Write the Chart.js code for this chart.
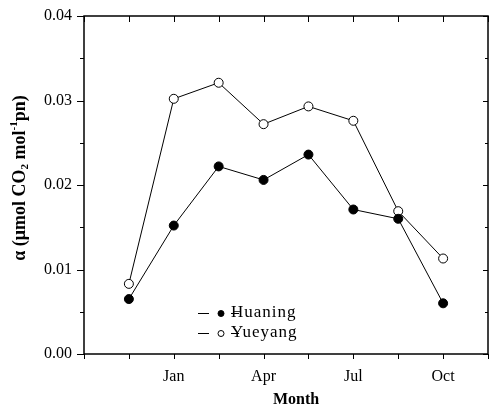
<!DOCTYPE html>
<html><head><meta charset="utf-8">
<script src="https://cdn.jsdelivr.net/npm/chart.js@4"></script>
<style>html,body{margin:0;padding:0;background:#fff}</style>
</head><body>
<canvas id="c" width="490" height="408"></canvas>
<script>
// Sampling time in months relative to January (Jan = 0)
const sampleMonths = [-1.5, 0, 1.5, 3, 4.5, 6, 7.5, 9];
const huaning = [0.0065, 0.0152, 0.0222, 0.0206, 0.0236, 0.0171, 0.0160, 0.0060];
const yueyang = [0.0083, 0.0302, 0.0321, 0.0272, 0.0293, 0.0276, 0.0169, 0.0113];
const monthTickValues = [0, 3, 6, 9];
const monthTickLabels = ['Jan', 'Apr', 'Jul', 'Oct'];
const seriesNames = ['Huaning', 'Yueyang'];
const xTitle = 'Month';

const FONT = '"Liberation Serif", "Times New Roman", serif';

function toPts(vals) { return sampleMonths.map((m, i) => ({ x: m, y: vals[i] })); }

const framePlugin = {
  id: 'frame',
  afterDraw(chart) {
    const { ctx, chartArea: a, scales: { x, y } } = chart;
    ctx.save();
    ctx.strokeStyle = '#000';
    ctx.lineWidth = 1;
    ctx.beginPath();
    x.ticks.forEach(t => {
      const px = Math.round(x.getPixelForValue(t.value)) + 0.5;
      ctx.moveTo(px, a.bottom); ctx.lineTo(px, a.bottom + 5);
      ctx.moveTo(px, a.top); ctx.lineTo(px, a.top + 6);
    });
    y.ticks.forEach(t => {
      const py = Math.round(y.getPixelForValue(t.value)) + 0.5;
      const major = Math.abs(t.value * 100 - Math.round(t.value * 100)) < 1e-6;
      ctx.moveTo(a.left, py); ctx.lineTo(a.left - (major ? 7 : 4), py);
      ctx.moveTo(a.right, py); ctx.lineTo(a.right - (major ? 5 : 3), py);
    });
    ctx.stroke();
    ctx.lineWidth = 1.5;
    ctx.strokeRect(a.left, a.top, a.right - a.left, a.bottom - a.top);

    // x title
    ctx.fillStyle = '#000';
    ctx.font = 'bold 16px ' + FONT;
    ctx.textAlign = 'center';
    ctx.textBaseline = 'middle';
    ctx.fillText(xTitle, 296, 400);

    // y title with sub/superscript
    ctx.save();
    ctx.translate(20, 178);
    ctx.rotate(-Math.PI / 2);
    const parts = [
      ['α (μmol CO', 0, 18], ['2', 5, 11], [' mol', 0, 18], ['-1', -6, 11], ['pn)', 0, 18]
    ];
    let total = 0;
    parts.forEach(p => { ctx.font = 'bold ' + p[2] + 'px ' + FONT; total += ctx.measureText(p[0]).width; });
    let cx = -total / 2;
    ctx.textAlign = 'left';
    parts.forEach(p => {
      ctx.font = 'bold ' + p[2] + 'px ' + FONT;
      ctx.fillText(p[0], cx, p[1]);
      cx += ctx.measureText(p[0]).width;
    });
    ctx.restore();

    // legend
    const rows = [[313, '#000'], [333, '#fff']];
    rows.forEach((r, i) => {
      const ly = r[0] + 0.5;
      ctx.lineWidth = 1;
      ctx.beginPath();
      ctx.moveTo(198, ly); ctx.lineTo(209, ly);
      ctx.moveTo(231, ly); ctx.lineTo(239, ly);
      ctx.stroke();
      ctx.beginPath();
      ctx.arc(221, ly, 3, 0, Math.PI * 2);
      ctx.fillStyle = r[1]; ctx.fill(); ctx.stroke();
      ctx.fillStyle = '#000';
      ctx.font = '17px ' + FONT;
      ctx.letterSpacing = '1px';
      ctx.textAlign = 'left';
      ctx.textBaseline = 'middle';
      ctx.fillText(seriesNames[i], 231, r[0]);
      ctx.letterSpacing = '0px';
    });
    ctx.restore();
  }
};

new Chart(document.getElementById('c'), {
  type: 'line',
  data: {
    datasets: [
      { label: seriesNames[0], data: toPts(huaning), borderColor: '#000', borderWidth: 1,
        pointRadius: 4.5, pointBackgroundColor: '#000', pointBorderColor: '#000', pointBorderWidth: 1, tension: 0 },
      { label: seriesNames[1], data: toPts(yueyang), borderColor: '#000', borderWidth: 1,
        pointRadius: 4.5, pointBackgroundColor: '#fff', pointBorderColor: '#000', pointBorderWidth: 1, tension: 0 }
    ]
  },
  options: {
    responsive: false,
    animation: false,
    devicePixelRatio: 1,
    layout: { autoPadding: false, padding: { top: 16, right: 2, left: 0, bottom: 0 } },
    plugins: { legend: { display: false }, tooltip: { enabled: false } },
    scales: {
      x: {
        type: 'linear', min: -3, max: 10.5,
        grid: { display: false, drawTicks: false }, border: { display: false },
        ticks: {
          stepSize: 1.5, autoSkip: false, maxRotation: 0, padding: 13,
          color: '#000', font: { family: FONT, size: 16 },
          callback: v => { const i = monthTickValues.findIndex(t => Math.abs(t - v) < 1e-6); return i >= 0 ? monthTickLabels[i] : ''; }
        },
        afterFit: s => { s.height = 54; s.paddingLeft = 0; s.paddingRight = 0; }
      },
      y: {
        min: 0, max: 0.04,
        grid: { display: false, drawTicks: false }, border: { display: false },
        ticks: {
          stepSize: 0.005, autoSkip: false, padding: 12,
          color: '#000', font: { family: FONT, size: 16 },
          callback: v => (Math.abs(v * 100 - Math.round(v * 100)) < 1e-6 ? v.toFixed(2) : '')
        },
        afterFit: s => { s.width = 84; s.paddingTop = 0; s.paddingBottom = 0; }
      }
    }
  },
  plugins: [framePlugin]
});
</script>
</body></html>
